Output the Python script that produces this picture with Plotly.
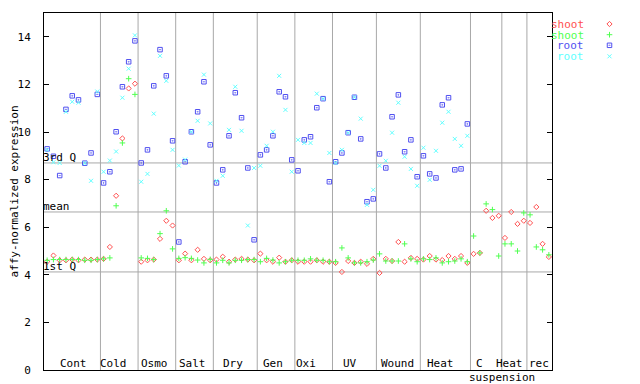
import plotly.graph_objects as go

# ---------------- data ----------------
groups = ["Cont", "Cold", "Osmo", "Salt", "Dry", "Gen", "Oxi", "UV", "Wound", "Heat", "C", "Heat", "rec"]
group_sizes = [9, 6, 6, 6, 7, 6, 6, 7, 7, 8, 5, 4, 4]

shoot_rep1 = [4.55, 4.81, 4.61, 4.61, 4.64, 4.61, 4.64, 4.64, 4.64,
              4.67, 5.17, 7.32, 9.73, 11.83, 12.03,
              4.55, 4.61, 4.64, 5.51, 6.27, 6.07,
              4.61, 4.89, 4.61, 5.05, 4.67, 4.61,
              4.64, 4.76, 4.55, 4.64, 4.67, 4.64, 4.61,
              4.89, 4.61, 4.55, 4.72, 4.55, 4.61,
              4.55, 4.55, 4.55, 4.61, 4.55, 4.55,
              4.50, 4.12, 4.58, 4.50, 4.55, 4.46, 4.67,
              4.08, 4.67, 4.58, 5.38, 4.55, 4.71, 4.67,
              4.64, 4.79, 4.64, 4.62, 4.79, 4.67, 4.79, 4.50,
              4.88, 4.92, 6.69, 6.39, 6.48,
              5.55, 6.64, 6.14, 6.27,
              6.18, 6.85, 5.30, 4.75]

shoot_rep2 = [4.61, 4.64, 4.64, 4.64, 4.64, 4.64, 4.61, 4.61, 4.64,
              4.67, 4.71, 6.90, 9.54, 12.24, 11.58,
              4.71, 4.69, 4.64, 5.73, 6.69, 5.09,
              4.69, 4.72, 4.69, 4.62, 4.50, 4.65,
              4.50, 4.61, 4.50, 4.61, 4.61, 4.64, 4.64,
              4.55, 4.69, 4.62, 4.50, 4.55, 4.61,
              4.61, 4.61, 4.67, 4.61, 4.61, 4.55,
              4.55, 5.13, 4.71, 4.50, 4.50, 4.55, 4.62,
              4.88, 4.58, 4.58, 4.58, 5.30, 4.67, 4.55,
              4.67, 4.64, 4.71, 4.50, 4.55, 4.58, 4.67, 4.55,
              5.63, 4.92, 6.98, 6.74, 4.79,
              5.30, 5.30, 5.00, 6.60,
              6.52, 5.17, 5.05, 4.84]

root_rep1 = [9.29, 8.98, 8.17, 10.95, 11.52, 11.35, 8.69, 9.12, 11.58,
             7.86, 8.33, 10.01, 11.90, 12.95, 13.83,
             8.70, 9.25, 11.94, 13.46, 12.36, 9.63,
             5.38, 8.75, 10.01, 10.85, 12.11, 9.46,
             7.86, 8.41, 9.84, 11.65, 10.60, 8.49, 5.47,
             9.04, 9.25, 9.84, 11.69, 11.48, 8.83,
             8.37, 9.67, 9.80, 11.02, 11.40, 7.91,
             8.75, 9.12, 9.97, 11.46, 9.71, 7.07, 7.19,
             9.08, 8.49, 10.64, 11.56, 9.17, 9.67, 8.12,
             9.00, 8.24, 8.07, 11.14, 11.44, 8.41, 8.45, 10.34]

root_rep2 = [9.25, 8.73, 8.70, 10.85, 11.27, 11.23, 8.69, 7.95, 11.70,
             8.33, 8.80, 9.18, 11.44, 12.66, 14.06,
             7.91, 8.24, 10.77, 13.20, 12.15, 9.25,
             8.59, 8.84, 10.01, 10.47, 12.41, 10.36,
             7.95, 8.16, 10.09, 11.90, 10.05, 6.07, 8.49,
             8.58, 9.42, 10.01, 12.36, 10.93, 8.33,
             9.67, 9.54, 9.54, 11.61, 11.40, 9.12,
             8.70, 9.25, 9.97, 11.46, 10.56, 6.94, 7.57,
             8.58, 8.79, 9.97, 11.23, 8.96, 8.45, 7.74,
             9.34, 7.99, 9.21, 10.39, 10.85, 9.71, 9.42, 9.84]

q1_value = 4.12
mean_value = 6.64
q3_value = 8.70

y_ticks = [0, 2, 4, 6, 8, 10, 12, 14]

# ---------------- styling ----------------
FONT = "DejaVu Sans Mono"
RED = "#ff5050"
GREEN = "#50ff50"
BLUE = "#5050f0"
CYAN = "#60ffff"
GRID = "#a8a8a8"

series = [
    ("shoot", shoot_rep1, RED, "diamond-open", 4),
    ("shoot", shoot_rep2, GREEN, "cross-thin-open", 4),
    ("root", root_rep1, BLUE, "square-open-dot", 4.5),
    ("root", root_rep2, CYAN, "x-thin-open", 4),
]

n_total = sum(group_sizes)

fig = go.Figure()

for name, vals, col, sym, sz in series:
    xs = list(range(1, len(vals) + 1))
    fig.add_trace(go.Scatter(
        x=xs, y=vals, mode="markers", name=name, showlegend=False,
        marker=dict(symbol=sym, size=sz, color=col, line=dict(color=col, width=1)),
        xaxis="x", yaxis="y", cliponaxis=False,
    ))

# legend (drawn on a screen-pixel helper axis)
legend_rows_y = [24, 34.7, 45.3, 56.3]
for (name, vals, col, sym, sz), ly in zip(series, legend_rows_y):
    fig.add_trace(go.Scatter(
        x=[609.5], y=[ly], mode="markers", showlegend=False,
        marker=dict(symbol=sym, size=sz, color=col, line=dict(color=col, width=1)),
        xaxis="x2", yaxis="y2", cliponaxis=False,
    ))

shapes = []
annotations = []

# group separators and labels
label_shifts = [1.5, -6, -2, -2.5, -2.5, -3.5, -7.5, -4, -0.5, -5, -7, -5, 0]
start = 0.5
boundaries = []
for g, n, sh in zip(groups, group_sizes, label_shifts):
    end = start + n
    center = (start + end) / 2
    annotations.append(dict(x=center, y=0, xref="x", yref="y", text=g, showarrow=False,
                            xanchor="center", yanchor="bottom", xshift=sh, yshift=-2,
                            font=dict(family=FONT, size=11, color="black")))
    boundaries.append(end)
    start = end

for b in boundaries[:-1]:
    shapes.append(dict(type="line", xref="x", yref="y", x0=b, x1=b, y0=0, y1=15,
                       line=dict(color=GRID, width=1), layer="below"))

# "suspension" under the C / Heat boundary
c_idx = groups.index("C")
annotations.append(dict(x=boundaries[c_idx], y=0, xref="x", yref="y", text="suspension",
                        showarrow=False, xanchor="center", yanchor="top", yshift=1,
                        font=dict(family=FONT, size=11, color="black")))

# quartile / mean lines
for val, lab in [(q3_value, "3rd Q"), (mean_value, "mean"), (q1_value, "1st Q")]:
    shapes.append(dict(type="line", xref="x", yref="y", x0=0.5, x1=n_total + 0.5, y0=val, y1=val,
                       line=dict(color=GRID, width=1), layer="below"))
    annotations.append(dict(x=0.5, y=val, xref="x", yref="y", text=lab, showarrow=False,
                            xanchor="left", yanchor="bottom", xshift=-3, yshift=-3,
                            font=dict(family=FONT, size=11, color="black")))

# legend texts
for (name, vals, col, sym, sz), ly in zip(series, legend_rows_y):
    annotations.append(dict(x=586, y=ly, xref="x2", yref="y2", text=name, showarrow=False,
                            xanchor="right", yanchor="middle", height=10,
                            font=dict(family=FONT, size=11, color=col)))

# page body adds an 8px offset, so the figure is 632x376 placed at (8, 8)
fig.update_layout(
    width=632, height=376,
    margin=dict(l=36, r=0, t=5, b=14),
    paper_bgcolor="white", plot_bgcolor="rgba(0,0,0,0)",
    font=dict(family=FONT, size=11, color="black"),
    showlegend=False,
    xaxis=dict(domain=[0, 508 / 596], range=[0.5, n_total + 0.5], showticklabels=False,
               ticks="", showgrid=False, zeroline=False, showline=True, linecolor="black",
               linewidth=1, mirror=True, anchor="y"),
    yaxis=dict(range=[0, 15], tickvals=y_ticks, ticks="inside", ticklen=5, tickcolor="black",
               showgrid=False, zeroline=False, showline=True, linecolor="black", linewidth=1,
               mirror="ticks", anchor="x", ticklabelstandoff=10,
               tickfont=dict(family=FONT, size=11, color="black"),
               title=dict(text="affy-normalized expression", standoff=0,
                          font=dict(family=FONT, size=11, color="black"))),
    xaxis2=dict(domain=[0, 1], range=[44, 640], visible=False, anchor="y2"),
    yaxis2=dict(domain=[0, 1], range=[370, 13], visible=False, anchor="x2"),
    shapes=shapes,
    annotations=annotations,
)

fig.write_html("out.html")
